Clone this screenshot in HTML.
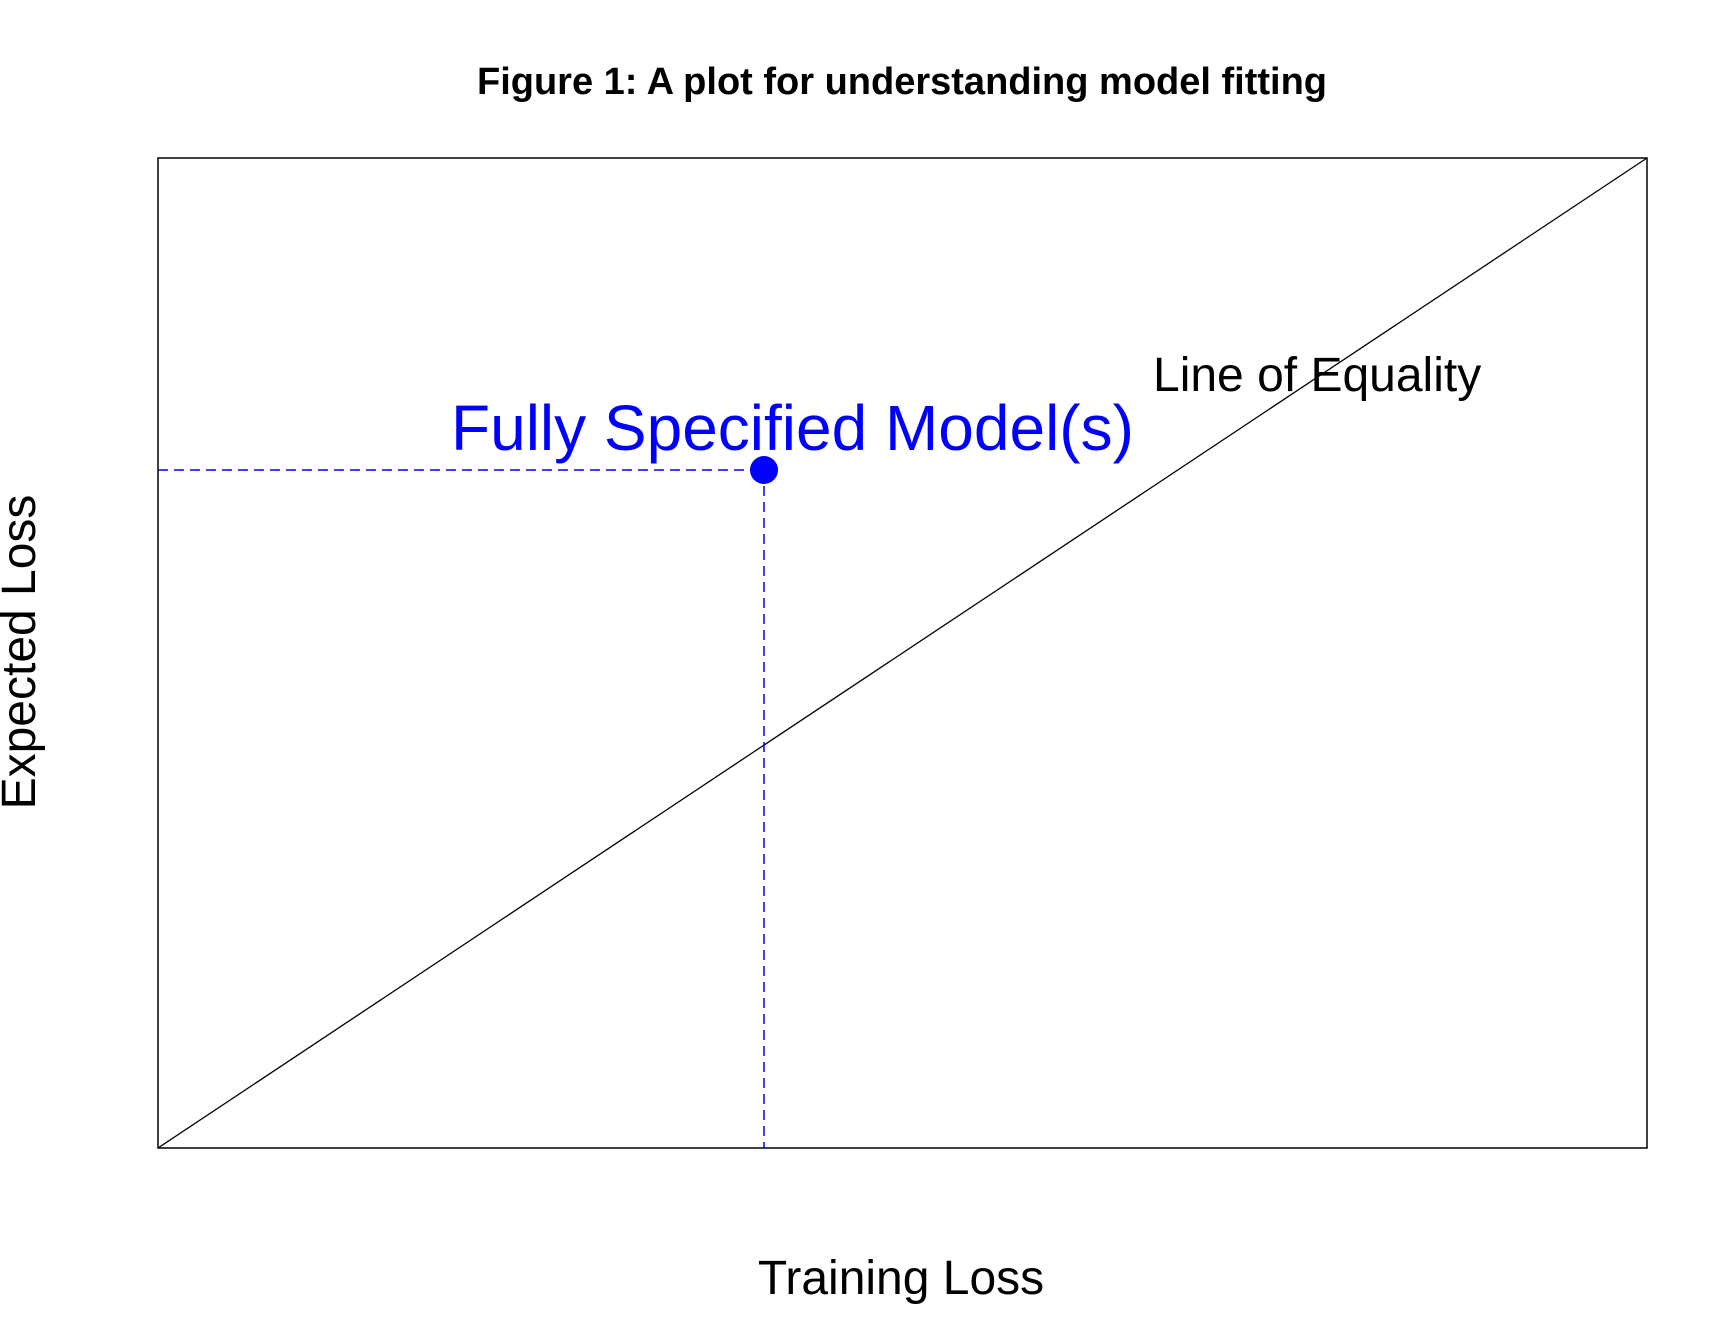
<!DOCTYPE html>
<html><head><meta charset="utf-8"><style>html,body{margin:0;padding:0;background:#fff}svg{display:block}</style></head>
<body>
<svg width="1728" height="1344" viewBox="0 0 1728 1344" xmlns="http://www.w3.org/2000/svg" font-family="Liberation Sans, Arial, sans-serif">
<rect x="0" y="0" width="1728" height="1344" fill="#fff"/>
<text x="902" y="94" text-anchor="middle" font-size="38" font-weight="bold" fill="#000">Figure 1: A plot for understanding model fitting</text>
<rect x="158" y="158" width="1489" height="990" fill="none" stroke="#000" stroke-width="1.5"/>
<line x1="158" y1="1148" x2="1647" y2="158" stroke="#000" stroke-width="1.3"/>
<line x1="158" y1="470" x2="764" y2="470" stroke="#0000ff" stroke-width="1.5" stroke-dasharray="10,6"/>
<line x1="764" y1="470" x2="764" y2="1148" stroke="#0000ff" stroke-width="1.5" stroke-dasharray="10,6"/>
<circle cx="764" cy="470" r="14" fill="#0000ff"/>
<text x="451" y="450" font-size="64" fill="#0000ff">Fully Specified Model(s)</text>
<text x="1153" y="391" font-size="48" fill="#000">Line of Equality</text>
<text x="901" y="1294" text-anchor="middle" font-size="48" fill="#000">Training Loss</text>
<text transform="translate(35,652) rotate(-90)" text-anchor="middle" font-size="48" fill="#000">Expected Loss</text>
</svg>
</body></html>
